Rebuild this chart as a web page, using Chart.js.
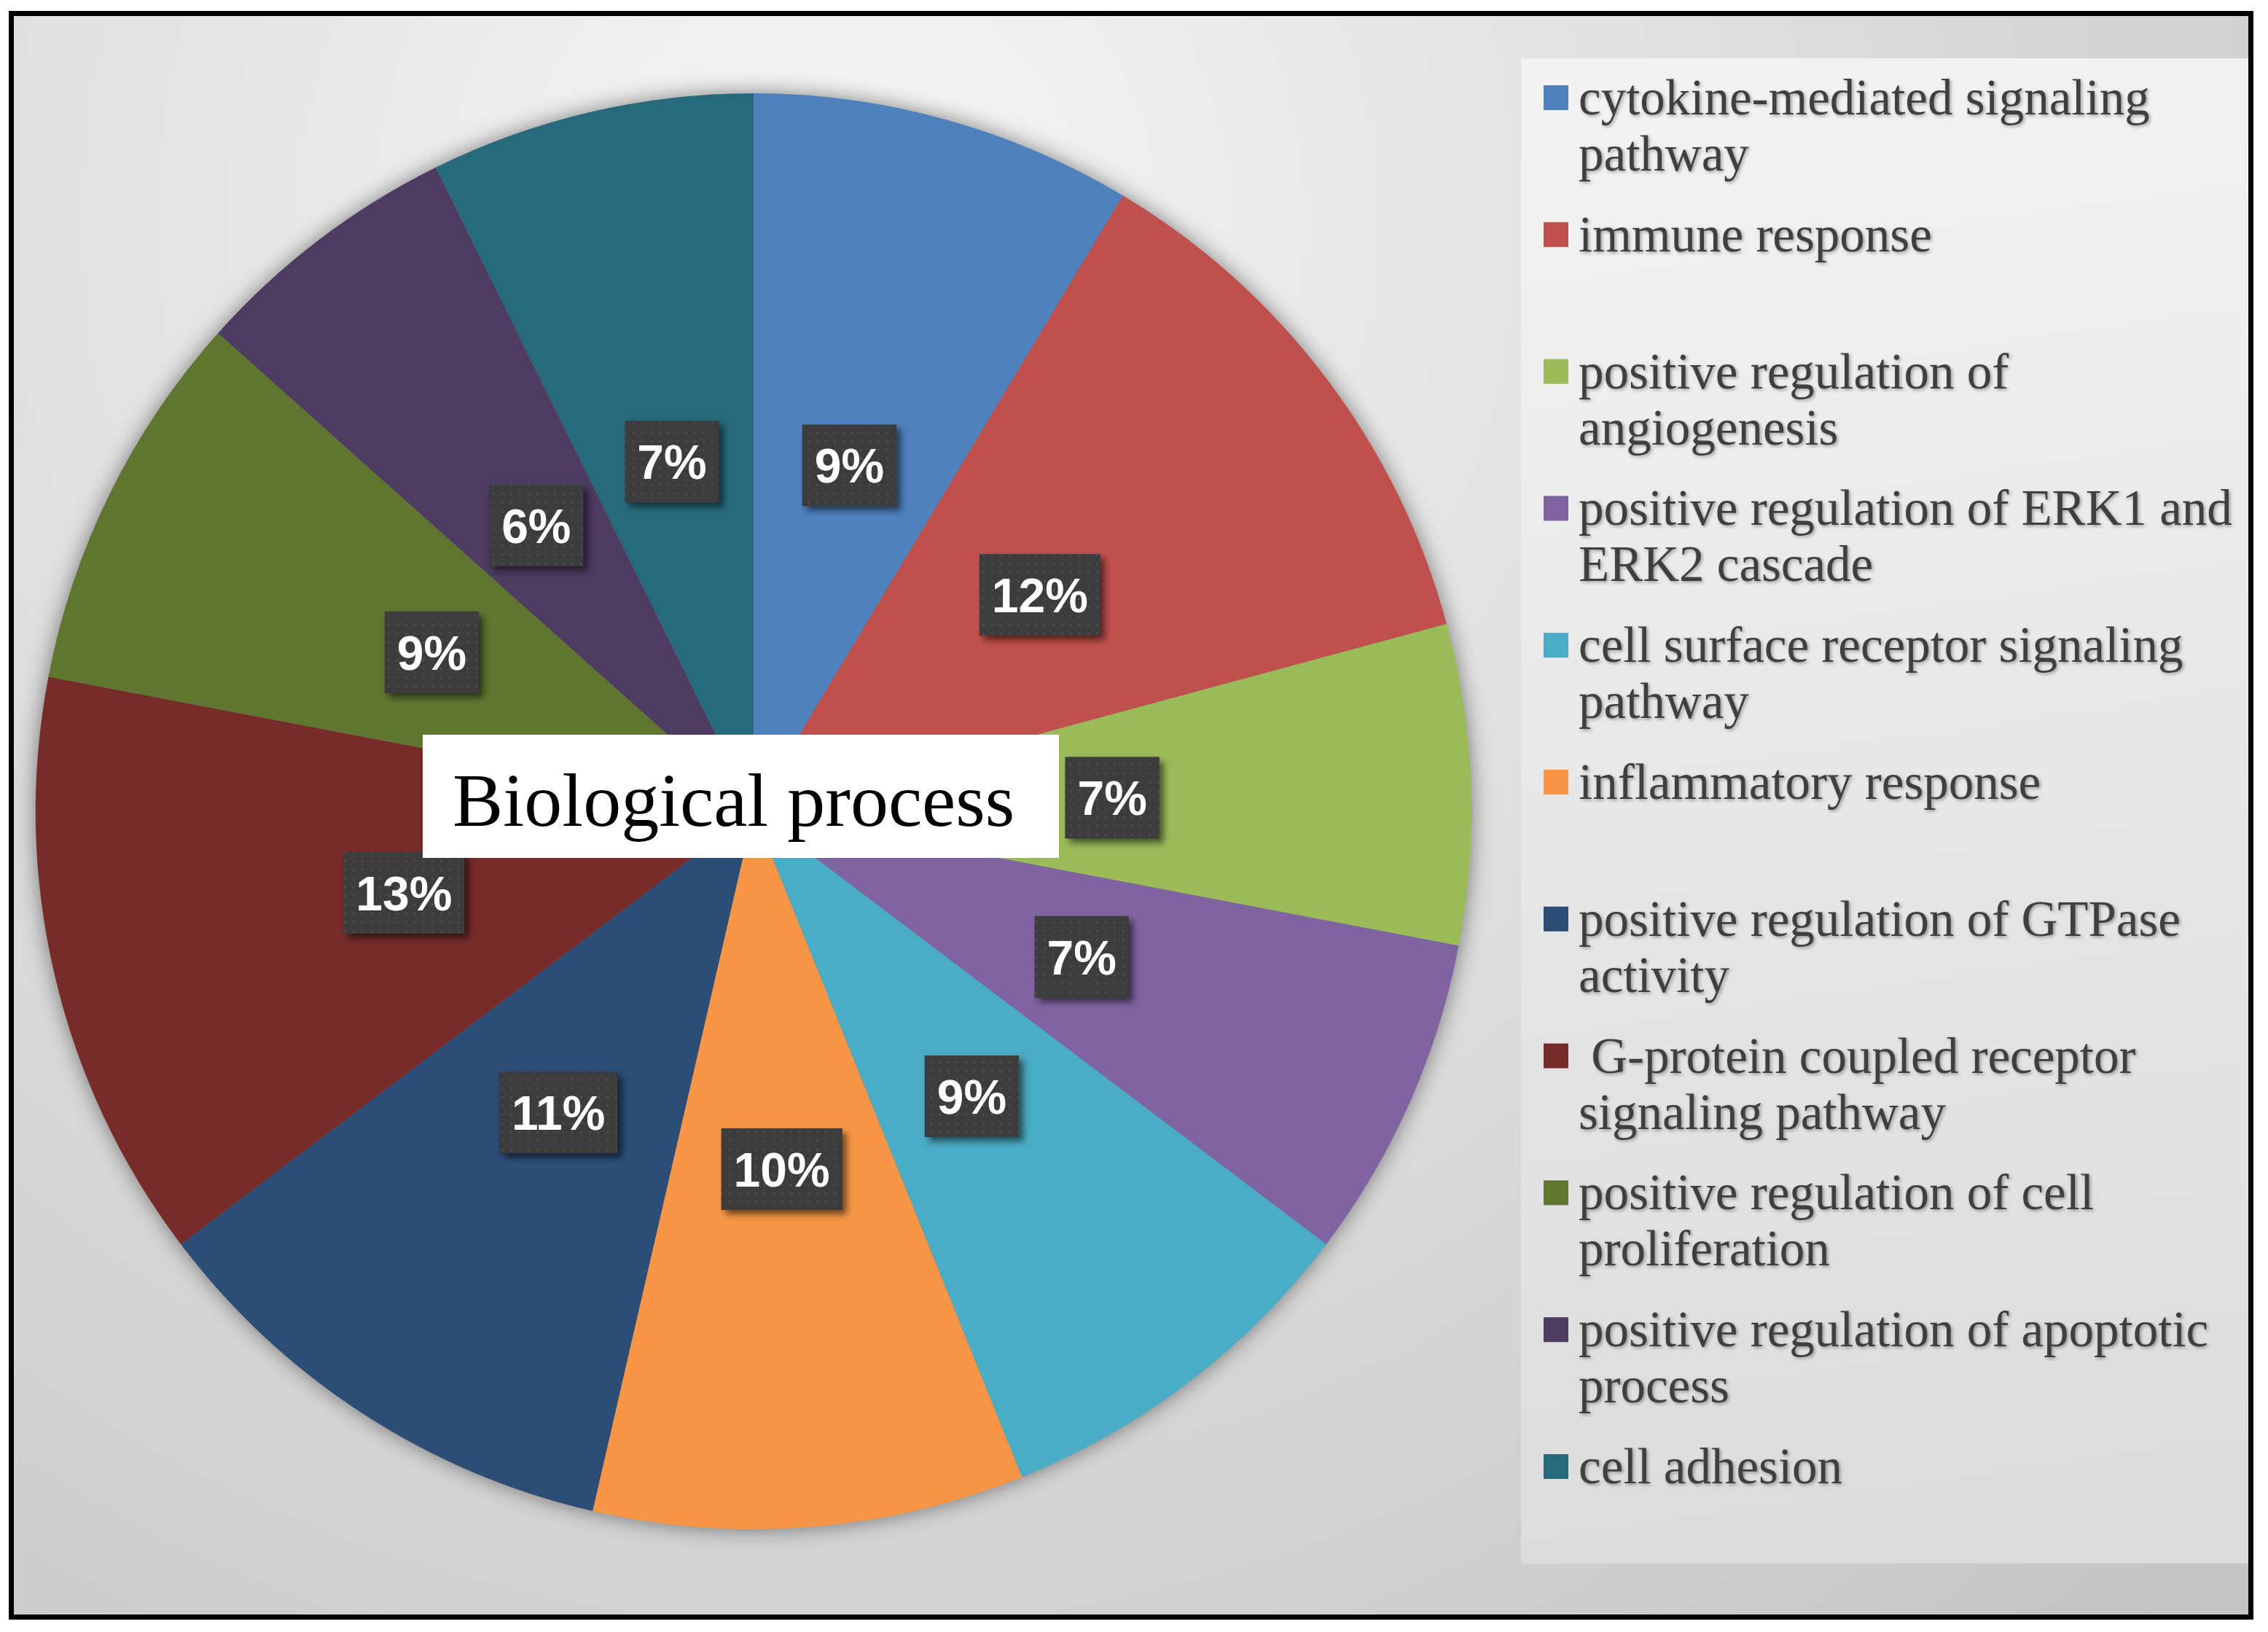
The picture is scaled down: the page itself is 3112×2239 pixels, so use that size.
<!DOCTYPE html>
<html>
<head>
<meta charset="utf-8">
<title>Biological process</title>
<script src="https://cdn.jsdelivr.net/npm/chart.js@4.4.1/dist/chart.umd.min.js"></script>
<style>
  html, body { margin: 0; padding: 0; background: #fff; }
  #wrap { position: relative; width: 3112px; height: 2239px; }
  canvas { display: block; }
</style>
</head>
<body>
<div id="wrap"><canvas id="bp" width="3112" height="2239"></canvas></div>
<script>
/* DATA */
const CATEGORIES = [
  'cytokine-mediated signaling pathway',
  'immune response',
  'positive regulation of angiogenesis',
  'positive regulation of ERK1 and ERK2 cascade',
  'cell surface receptor signaling pathway',
  'inflammatory response',
  'positive regulation of GTPase activity',
  ' G-protein coupled receptor signaling pathway',
  'positive regulation of cell proliferation',
  'positive regulation of apoptotic process',
  'cell adhesion'
];
const SHARES = [8.6, 12.2, 7.2, 7.3, 8.6, 9.7, 11.1, 13.3, 8.6, 6.1, 7.3];
const COLORS = ['#4F81BD', '#C0504D', '#9BBB59', '#8064A2', '#4BACC6', '#F79646',
                '#2C4D75', '#772C2A', '#5F7530', '#4D3B62', '#276A7C'];
const TITLE = 'Biological process';

/* LAYOUT */
const W = 3112, H = 2239;
const LEGEND = { box: [2087, 80, 999, 2065], swatchX: 2118, swatch: 34, textX: 2166,
  firstY: 137, step: 187.8, lineH: 77, wrap: 935,
  font: '69px "Liberation Serif", "Times New Roman", serif' };
const TITLE_BOX = { x: 580, y: 1008, w: 873, h: 169, textX: 621, baseline: 1133,
  font: '104px "Liberation Serif", "Times New Roman", serif' };
const LABEL_FONT = 'bold 66px "Liberation Sans", Arial, sans-serif';

function wrapText(ctx, text, maxW) {
  const words = text.split(' ');
  const lines = [];
  let line = words[0];
  for (let i = 1; i < words.length; i++) {
    const test = line + ' ' + words[i];
    if (ctx.measureText(test).width > maxW && line.trim()) { lines.push(line); line = words[i]; }
    else line = test;
  }
  lines.push(line);
  return lines;
}

// dotted fill used by the data label boxes
const dots = document.createElement('canvas');
dots.width = 12; dots.height = 12;
(() => {
  const d = dots.getContext('2d');
  d.fillStyle = '#3c3c3c'; d.fillRect(0, 0, 12, 12);
  d.fillStyle = '#4c4c4c'; d.fillRect(4, 4, 3, 3);
})();

const decor = {
  id: 'decor',
  beforeDraw(chart) {
    const ctx = chart.ctx;
    ctx.save();
    ctx.fillStyle = '#fff';
    ctx.fillRect(0, 0, W, H);
    const g = ctx.createRadialGradient(1150, 300, 0, 1150, 300, 2650);
    g.addColorStop(0, '#f6f6f6');
    g.addColorStop(1, '#c4c4c4');
    ctx.fillStyle = g;
    ctx.fillRect(19, 22, 3067, 2193);
    const [lx, ly, lw, lh] = LEGEND.box;
    const lg = ctx.createLinearGradient(lx, ly, lx + lw * 0.3, ly + lh);
    lg.addColorStop(0, '#f3f3f3');
    lg.addColorStop(1, '#dcdcdc');
    ctx.fillStyle = lg;
    ctx.fillRect(lx, ly, lw, lh);
    ctx.lineWidth = 7;
    ctx.strokeStyle = '#000';
    ctx.strokeRect(15.5, 18.5, 3073, 2200);
    ctx.restore();
  },
  beforeDatasetsDraw(chart) {
    // soft shadow under the whole pie
    const a = chart.getDatasetMeta(0).data[0];
    const ctx = chart.ctx;
    ctx.save();
    ctx.shadowColor = 'rgba(0,0,0,0.5)';
    ctx.shadowBlur = 30;
    ctx.fillStyle = '#777';
    ctx.beginPath();
    ctx.arc(a.x, a.y, a.outerRadius - 1, 0, Math.PI * 2);
    ctx.fill();
    ctx.restore();
  },
  afterDatasetsDraw(chart) {
    const ctx = chart.ctx;
    const data = chart.data.datasets[0].data;
    const total = data.reduce((s, v) => s + v, 0);
    ctx.save();
    ctx.font = LABEL_FONT;
    chart.getDatasetMeta(0).data.forEach((arc, i) => {
      const txt = Math.round(data[i] / total * 100) + '%';
      const p = arc.getCenterPoint();
      const tw = ctx.measureText(txt).width;
      const bw = tw + 34, bh = 112;
      const bx = p.x - bw / 2, by = p.y - bh / 2;
      ctx.save();
      ctx.shadowColor = 'rgba(0,0,0,0.55)';
      ctx.shadowBlur = 10;
      ctx.shadowOffsetX = 6;
      ctx.shadowOffsetY = 6;
      ctx.fillStyle = ctx.createPattern(dots, 'repeat');
      ctx.fillRect(bx, by, bw, bh);
      ctx.restore();
      ctx.fillStyle = '#fff';
      ctx.textAlign = 'center';
      ctx.textBaseline = 'alphabetic';
      ctx.fillText(txt, p.x, p.y + 24);
    });
    ctx.restore();
  },
  afterDraw(chart) {
    const ctx = chart.ctx;
    ctx.save();
    // title box
    ctx.fillStyle = '#fff';
    ctx.fillRect(TITLE_BOX.x, TITLE_BOX.y, TITLE_BOX.w, TITLE_BOX.h);
    ctx.fillStyle = '#000';
    ctx.font = TITLE_BOX.font;
    ctx.textBaseline = 'alphabetic';
    ctx.fillText(TITLE, TITLE_BOX.textX, TITLE_BOX.baseline);
    // legend
    ctx.font = LEGEND.font;
    const cols = chart.data.datasets[0].backgroundColor;
    chart.data.labels.forEach((lab, i) => {
      const y0 = LEGEND.firstY + i * LEGEND.step;
      ctx.shadowColor = 'transparent';
      ctx.fillStyle = cols[i];
      ctx.fillRect(LEGEND.swatchX, y0 - 20, LEGEND.swatch, LEGEND.swatch);
      ctx.shadowColor = 'rgba(0,0,0,0.35)';
      ctx.shadowBlur = 4;
      ctx.shadowOffsetX = 2;
      ctx.shadowOffsetY = 2;
      ctx.fillStyle = '#3f3f3f';
      wrapText(ctx, lab, LEGEND.wrap).forEach((ln, k) => {
        ctx.fillText(ln, LEGEND.textX, y0 + 20 + k * LEGEND.lineH);
      });
    });
    ctx.restore();
  }
};

new Chart(document.getElementById('bp'), {
  type: 'pie',
  data: {
    labels: CATEGORIES,
    datasets: [{ data: SHARES, backgroundColor: COLORS, borderWidth: 0, hoverOffset: 0, offset: 0 }]
  },
  options: {
    responsive: false,
    animation: false,
    events: [],
    layout: { padding: { left: 49, top: 128, right: 1093, bottom: 141 } },
    plugins: { legend: { display: false }, tooltip: { enabled: false }, title: { display: false } }
  },
  plugins: [decor]
});
</script>
</body>
</html>
